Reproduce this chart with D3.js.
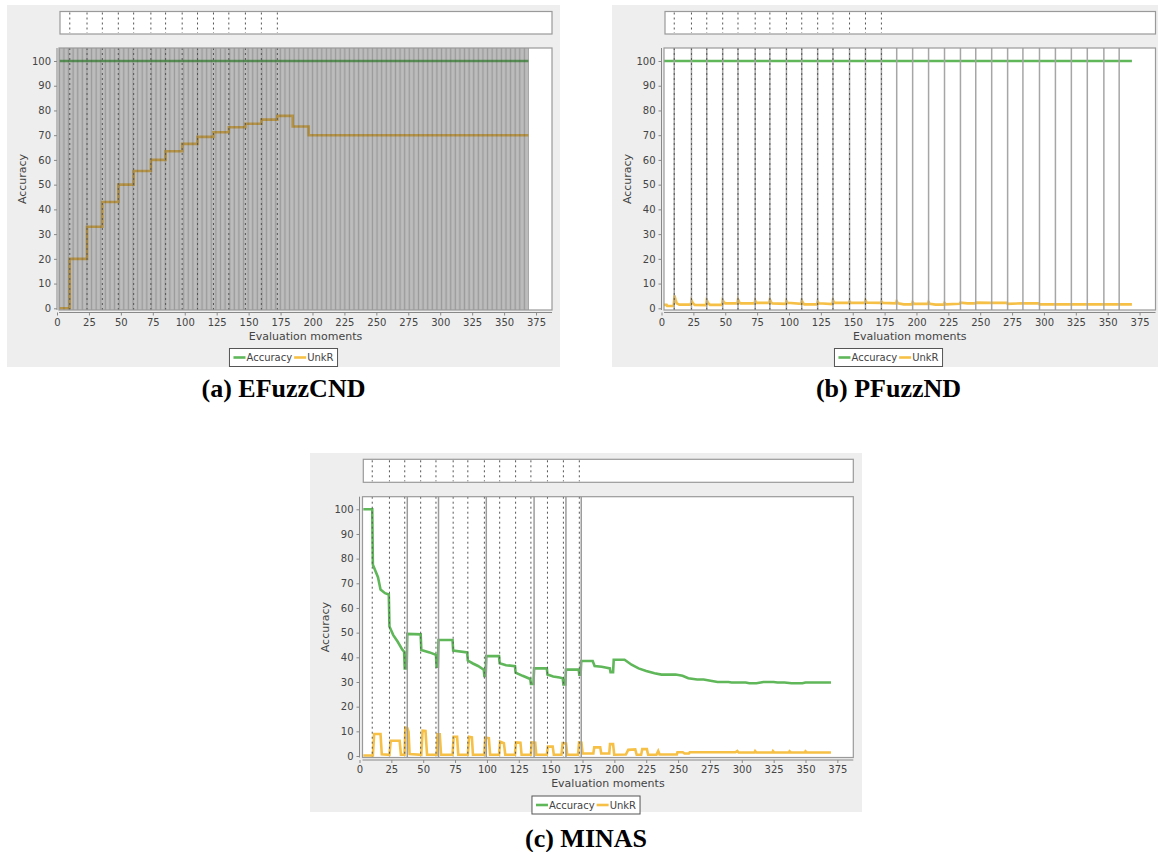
<!DOCTYPE html>
<html>
<head>
<meta charset="utf-8">
<script src="https://cdn.jsdelivr.net/npm/d3@7"></script>
<style>
  body { margin: 0; background: #fff; }
  svg { display: block; }
</style>
</head>
<body>
<svg id="figure"></svg>
<script>
// ---- data ----
const xTickValues = [0, 25, 50, 75, 100, 125, 150, 175, 200, 225, 250, 275, 300, 325, 350, 375]
const yTickValues = [0, 10, 20, 30, 40, 50, 60, 70, 80, 90, 100]
const seriesNames = ["Accuracy", "UnkR"]

// moments where a novelty is detected (dashed markers, all three panels)
const noveltyMoments = [10, 23.5, 35.5, 48, 60, 73.5, 85, 98, 110, 122.5, 134.5, 147.5, 160, 172.5]
// EFuzzCND marks every evaluation moment between these two
const efuzzMarkerSpan = [2, 369]
const pfuzzMarkers = [10, 23.5, 35.5, 48, 60, 73.5, 85, 98, 110, 122.5, 134.5, 147.5, 160, 172.5,
    184.5, 197, 209.5, 222, 234.5, 246.5, 259, 271.5, 283.5, 296.5, 309, 321.5, 334, 347, 359]
const minasMarkers = [37.5, 62, 99.5, 137, 162, 174]

const efuzzAccuracy = [[2, 100], [369, 100]]
// step change points
const efuzzUnkR = [[2, 0], [10, 20], [23.5, 33], [35.5, 43], [48, 50], [60, 55.5], [73.5, 60], [85, 63.5],
    [98, 66.5], [110, 69.3], [122.5, 71.2], [134.5, 73.2], [147.5, 74.6], [160, 76.3], [172.5, 77.8],
    [184.5, 73.5], [197, 70], [369, 70]]

const pfuzzAccuracy = [[2, 100], [369, 100]]
const pfuzzUnkR = [[2, 1.4], [4, 1.4], [4.5, 0.9], [9.5, 0.9], [10.2, 5.2], [11, 3.5], [12, 2], [14, 1.5],
    [23, 1.5], [23.5, 3.2], [24.5, 2.2], [26, 1.4], [35, 1.3], [35.5, 3.3], [36.5, 2.2], [38, 1.4],
    [47.5, 1.4], [48, 3.3], [49, 2.5], [50, 2], [59.5, 2], [60, 3.6], [61, 2.5], [62, 2], [73, 2],
    [73.5, 3.1], [74.5, 2.2], [84.5, 2.2], [85, 3.6], [86, 2.5], [87, 2], [97.5, 1.8], [98, 3],
    [99, 2.2], [109.5, 1.8], [110, 3.2], [111, 2.2], [112, 1.6], [122, 1.6], [122.5, 2.8], [123.5, 2],
    [134, 1.7], [134.5, 3.3], [135.5, 2.3], [147, 2.2], [147.5, 2.8], [148.5, 2.2], [159.5, 2.2],
    [160, 3.2], [161, 2.3], [172, 2.2], [172.5, 2.8], [173.5, 2.2], [184, 2], [184.5, 2.9], [185.5, 2],
    [190, 1.6], [196.5, 1.6], [197, 2.5], [198, 1.8], [209, 1.8], [209.5, 2.6], [210.5, 1.8], [215, 1.5],
    [221.5, 1.5], [222, 2.2], [223, 1.6], [234, 1.8], [234.5, 2.3], [240, 2], [246, 2], [246.5, 2.3],
    [258, 2.2], [271, 2.2], [271.5, 1.8], [283, 2], [296, 2], [296.5, 1.6], [369, 1.6]]

const minasAccuracy = [[3, 100], [10, 100], [10.5, 77.5], [14.5, 72.5], [16.5, 67.5], [20, 66], [23, 65.5],
    [23.5, 52.5], [26.5, 49], [30, 46.3], [33.5, 43.2], [35, 42.3], [35.5, 35.5], [37, 35.5], [37.5, 49.5],
    [48, 49.3], [48.5, 43], [55, 42], [60, 41], [60.5, 36.2], [61.5, 36.2], [62, 47], [73, 47],
    [73.5, 42.7], [84.5, 42], [85, 38.7], [89, 37.5], [93, 36.5], [97.5, 35], [98, 32.4], [99, 32.4],
    [99.5, 40.5], [109.5, 40.5], [110, 37.6], [115, 36.8], [122, 36.4], [122.5, 33.8], [128, 32.5],
    [134, 31.2], [134.5, 29.2], [136.5, 29.2], [137, 35.5], [147, 35.5], [147.5, 33], [152, 32.2],
    [157, 31.8], [159.5, 31.5], [160, 29], [161.5, 29], [162, 35], [172, 35], [172.5, 33], [173.5, 33],
    [174, 38.5], [183, 38.5], [184.5, 36.5], [190, 36.2], [194, 35.8], [196.5, 35.5], [197, 34],
    [199, 34], [199.5, 39], [208, 39], [213.5, 37], [219, 35.5], [225, 34.5], [231.5, 33.5], [237, 33],
    [248, 33], [253.5, 32.5], [258, 31.5], [265, 31], [270, 31], [275.5, 30.5], [281, 30], [289.5, 30],
    [292, 29.8], [303, 29.8], [306, 29.5], [311.5, 29.5], [317, 30], [325, 30], [328, 29.8],
    [333.5, 29.8], [339, 29.5], [347.5, 29.5], [350, 29.8], [370, 29.8]]
const minasUnkR = [[3, 0.2], [10.5, 0.2], [11.5, 8.9], [16.5, 8.9], [17.5, 0.7], [23.5, 0.5], [24.5, 6.2],
    [31.5, 6.2], [32.5, 0.5], [35.3, 0.5], [36, 11.5], [37.5, 11.3], [38.5, 9.8], [39.3, 0.8], [48.5, 0.5],
    [49.5, 10.3], [51.8, 10.2], [53, 0.5], [60.7, 0.5], [61.2, 8.8], [63, 8.8], [64, 0.5], [73, 0.5],
    [73.9, 7.8], [76.6, 7.8], [77.5, 0.5], [85, 0.5], [86, 7.8], [88.2, 7.6], [89, 0.5], [97.9, 0.5],
    [98.7, 7.4], [101.5, 7.2], [102.5, 0.5], [109.5, 0.5], [110.3, 5.8], [113.3, 5.2], [114.4, 0.5],
    [122, 0.5], [122.7, 5.5], [126.3, 5.4], [127.2, 0.5], [134.5, 0.5], [135.1, 5.5], [137.9, 5.4],
    [138.7, 0.5], [147, 0.5], [147.8, 3.8], [151.6, 3.8], [152.5, 0.5], [158.5, 0.5], [159.4, 5.2],
    [162.1, 5.1], [163, 0.5], [171.5, 0.5], [172.3, 5.5], [174.2, 5.4], [175.1, 1], [183.5, 1],
    [184.2, 3.5], [188.9, 3.5], [189.7, 1], [196, 1], [196.6, 4.8], [199, 4.8], [199.9, 0.5], [209, 0.6],
    [210.9, 2.5], [216.4, 2.7], [217.5, 0.5], [221, 0.5], [221.9, 2.8], [225.5, 2.8], [226.5, 0.5],
    [233, 0.5], [234.4, 2], [235.5, 0.6], [249, 0.6], [249.5, 1.5], [253.7, 1.5], [255, 1], [258.5, 1],
    [259.2, 1.5], [295, 1.5], [296.5, 2], [297.5, 1.4], [310, 1.4], [310.5, 2], [311.5, 1.4], [324, 1.4],
    [324.5, 2], [325.5, 1.4], [337, 1.4], [337.5, 1.9], [338.5, 1.4], [349.5, 1.4], [350, 1.9],
    [351, 1.4], [370, 1.4]]

// ---- layout / style ----
const config = {
    width: 1158,
    height: 852,
    xDomainMax: 387.5,
    colors: {
        panel: "#eeeeee",
        frame: "#9a9a9a",
        axis: "#888",
        text: "#444",
        accuracy: "#5fb75a",
        unkr: "#f6c046",
        dashed: "#555"
    },
    font: "'DejaVu Sans', sans-serif"
}

const panels = [
    {
        caption: "(a) EFuzzCND", bg: [7, 5, 553, 362], centerX: 283.5, captionY: 397,
        plot: { left: 59, right: 552, top: 48, bottom: 310 }, x0: 57, y0: 308.3, y100: 61,
        strip: { left: 60, top: 11.5, bottom: 34 },
        accuracy: efuzzAccuracy, unkr: efuzzUnkR, unkrStep: true,
        markers: d3.range(efuzzMarkerSpan[0], efuzzMarkerSpan[1] + 1),
        markerStyle: { stroke: "#4a4a4a", width: 1, opacity: 0.55 }
    },
    {
        caption: "(b) PFuzzND", bg: [612, 5, 560, 362], centerX: 888.5, captionY: 397,
        plot: { left: 664, right: 1155.5, top: 48, bottom: 310 }, x0: 661.5, y0: 308.3, y100: 61,
        strip: { left: 665, top: 11.5, bottom: 34 },
        accuracy: pfuzzAccuracy, unkr: pfuzzUnkR, unkrStep: false,
        markers: pfuzzMarkers,
        markerStyle: { stroke: "#a6a6a6", width: 1.5, opacity: 1 }
    },
    {
        caption: "(c) MINAS", bg: [310, 453, 552, 359], centerX: 586, captionY: 846.5,
        plot: { left: 362.5, right: 853.3, top: 496.7, bottom: 757.5 }, x0: 359.5, y0: 756, y100: 509.3,
        strip: { left: 363.3, top: 459.3, bottom: 482.3 },
        accuracy: minasAccuracy, unkr: minasUnkR, unkrStep: false,
        markers: minasMarkers,
        markerStyle: { stroke: "#9c9c9c", width: 1.5, opacity: 1 }
    }
]

const svg = d3.select("#figure")
    .attr("width", config.width)
    .attr("height", config.height)

panels.forEach((p, i) => drawPanel(p, i))

function drawPanel(p, i) {
    const g = svg.append("g")
    const pl = p.plot

    const x = d3.scaleLinear().domain([0, config.xDomainMax]).range([p.x0, pl.right])
    const y = d3.scaleLinear().domain([0, 100]).range([p.y0, p.y100])

    g.append("rect")
        .attr("x", p.bg[0]).attr("y", p.bg[1])
        .attr("width", p.bg[2]).attr("height", p.bg[3])
        .style("fill", config.colors.panel)

    // top strip with the novelty markers
    g.append("rect")
        .attr("x", p.strip.left).attr("y", p.strip.top)
        .attr("width", pl.right - p.strip.left).attr("height", p.strip.bottom - p.strip.top)
        .style("fill", "#fff")
        .style("stroke", config.colors.frame)
        .style("stroke-width", 1.2)
    g.selectAll(".strip-mark").data(noveltyMoments).join("line")
        .attr("x1", d => x(d)).attr("x2", d => x(d))
        .attr("y1", p.strip.top + 1).attr("y2", p.strip.bottom - 1)
        .style("stroke", config.colors.dashed)
        .style("stroke-width", 1)
        .style("stroke-dasharray", "2,3")

    // plot area
    const clipId = "clip" + i
    g.append("clipPath").attr("id", clipId)
        .append("rect")
        .attr("x", pl.left).attr("y", pl.top)
        .attr("width", pl.right - pl.left).attr("height", pl.bottom - pl.top)
    g.append("rect")
        .attr("x", pl.left).attr("y", pl.top)
        .attr("width", pl.right - pl.left).attr("height", pl.bottom - pl.top)
        .style("fill", "#fff")

    const body = g.append("g").attr("clip-path", `url(#${clipId})`)

    const line = d3.line().x(d => x(d[0])).y(d => y(d[1]))
    const stepLine = d3.line().x(d => x(d[0])).y(d => y(d[1])).curve(d3.curveStepAfter)

    body.append("path")
        .datum(p.accuracy)
        .attr("d", line)
        .style("fill", "none")
        .style("stroke", config.colors.accuracy)
        .style("stroke-width", 2.6)
    body.append("path")
        .datum(p.unkr)
        .attr("d", p.unkrStep ? stepLine : line)
        .style("fill", "none")
        .style("stroke", config.colors.unkr)
        .style("stroke-width", 2.6)

    const ms = p.markerStyle
    body.selectAll(".marker").data(p.markers).join("line")
        .attr("x1", d => x(d)).attr("x2", d => x(d))
        .attr("y1", pl.top).attr("y2", pl.bottom)
        .style("stroke", ms.stroke)
        .style("stroke-width", ms.width)
        .style("opacity", ms.opacity)

    body.selectAll(".novelty").data(noveltyMoments).join("line")
        .attr("x1", d => x(d)).attr("x2", d => x(d))
        .attr("y1", pl.top).attr("y2", pl.bottom)
        .style("stroke", config.colors.dashed)
        .style("stroke-width", 1)
        .style("stroke-dasharray", "2,3")

    g.append("rect")
        .attr("x", pl.left).attr("y", pl.top)
        .attr("width", pl.right - pl.left).attr("height", pl.bottom - pl.top)
        .style("fill", "none")
        .style("stroke", config.colors.frame)
        .style("stroke-width", 1.2)

    // axes
    const yAxis = g.append("g")
        .attr("transform", `translate(${p.x0},0)`)
        .call(d3.axisLeft(y).tickValues(yTickValues).tickSize(3).tickPadding(3).tickSizeOuter(0))
    const xAxisY = pl.bottom + 2.5
    const xAxis = g.append("g")
        .attr("transform", `translate(0,${xAxisY})`)
        .call(d3.axisBottom(x).tickValues(xTickValues).tickSize(3).tickPadding(3).tickSizeOuter(0))

    ;[yAxis, xAxis].forEach(ax => {
        ax.select(".domain").remove()
        ax.selectAll(".tick line").style("stroke", config.colors.axis)
        ax.selectAll(".tick text")
            .style("fill", config.colors.text)
            .style("font-family", config.font)
            .style("font-size", "10px")
    })
    g.append("line")
        .attr("x1", p.x0).attr("x2", p.x0)
        .attr("y1", pl.top).attr("y2", pl.bottom)
        .style("stroke", config.colors.axis)
    g.append("line")
        .attr("x1", pl.left).attr("x2", pl.right)
        .attr("y1", xAxisY).attr("y2", xAxisY)
        .style("stroke", config.colors.axis)

    g.append("text")
        .text("Evaluation moments")
        .attr("x", (pl.left + pl.right) / 2)
        .attr("y", pl.bottom + 29.5)
        .attr("text-anchor", "middle")
        .style("fill", config.colors.text)
        .style("font-family", config.font)
        .style("font-size", "11px")

    g.append("text")
        .text("Accuracy")
        .attr("transform", `translate(${p.x0 - 31},${(pl.top + pl.bottom) / 2}) rotate(-90)`)
        .attr("text-anchor", "middle")
        .style("fill", config.colors.text)
        .style("font-family", config.font)
        .style("font-size", "11px")

    drawLegend(g, p.centerX, pl.bottom + 38.5)

    g.append("text")
        .text(p.caption)
        .attr("x", p.centerX)
        .attr("y", p.captionY)
        .attr("text-anchor", "middle")
        .style("fill", "#000")
        .style("font-family", "'Liberation Serif', 'Times New Roman', serif")
        .style("font-weight", "bold")
        .style("font-size", "26px")
}

function drawLegend(g, cx, top) {
    const lg = g.append("g")
    const box = lg.append("rect")
    const colors = [config.colors.accuracy, config.colors.unkr]
    let cursor = 0
    const mid = top + 9
    seriesNames.forEach((name, k) => {
        lg.append("line")
            .attr("x1", cursor).attr("x2", cursor + 12)
            .attr("y1", mid).attr("y2", mid)
            .style("stroke", colors[k])
            .style("stroke-width", 2.6)
        const t = lg.append("text")
            .text(name)
            .attr("x", cursor + 13)
            .attr("y", mid + 3.5)
            .style("fill", config.colors.text)
            .style("font-family", config.font)
            .style("font-size", "10px")
        cursor += 13 + t.node().getComputedTextLength() + 2
    })
    const w = cursor + 6
    const left = cx - w / 2
    lg.selectAll("line, text").attr("transform", `translate(${left + 4},0)`)
    box.attr("x", left).attr("y", top)
        .attr("width", w).attr("height", 18)
        .style("fill", "#fff")
        .style("stroke", "#555")
        .style("stroke-width", 1)
}
</script>
</body>
</html>
